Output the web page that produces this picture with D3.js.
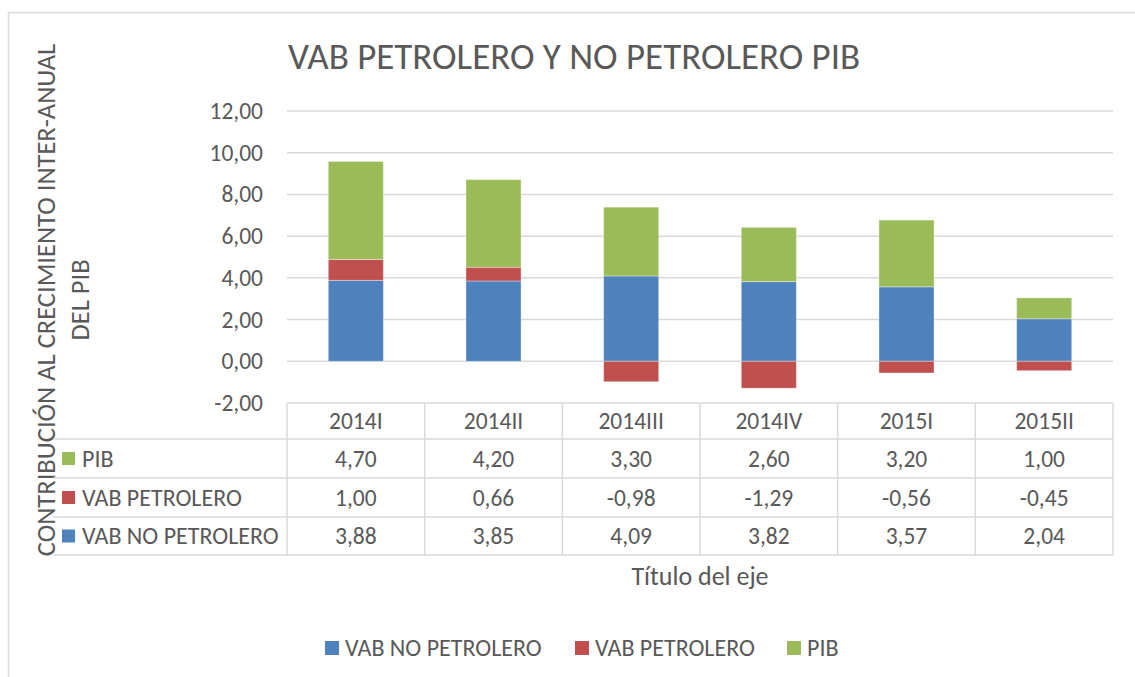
<!DOCTYPE html>
<meta charset="utf-8">
<script src="https://d3js.org/d3.v7.min.js"></script>
<style>
  body { margin: 0; background: #fff; }
  text { font-family: Carlito, Lato, sans-serif; fill: #595959; }
</style>
<div id="chart"></div>
<script>
  // data
  const quarters = ["2014I", "2014II", "2014III", "2014IV", "2015I", "2015II"];
  const seriesNames = ["VAB NO PETROLERO", "VAB PETROLERO", "PIB"];
  const vabNoPetrolero = [3.88, 3.85, 4.09, 3.82, 3.57, 2.04];
  const vabPetrolero = [1.00, 0.66, -0.98, -1.29, -0.56, -0.45];
  const pib = [4.70, 4.20, 3.30, 2.60, 3.20, 1.00];
  const yTicks = [-2, 0, 2, 4, 6, 8, 10, 12];
  const colors = ["#4f81bd", "#c0504d", "#9bbb59"];

  const seriesValues = [vabNoPetrolero, vabPetrolero, pib];
  const rows = quarters.map((q, i) => {
    const r = {quarter: q};
    seriesNames.forEach((s, j) => r[s] = seriesValues[j][i]);
    return r;
  });

  const W = 1135, H = 677;
  const plot = {left: 287, right: 1113, top: 111, bottom: 403};
  const rowH = [403, 439, 478, 517, 555];

  const locale = d3.formatLocale({decimal: ",", thousands: ".", grouping: [3], currency: ["", ""], minus: "-"});
  const fmt = locale.format(".2f");

  const svg = d3.select("#chart").append("svg")
    .attr("width", W).attr("height", H);

  // chart area border
  svg.append("rect")
    .attr("x", 8.5).attr("y", 12.5)
    .attr("width", W + 20).attr("height", H + 20)
    .attr("fill", "none").attr("stroke", "#d9d9d9").attr("stroke-width", 1.5);

  const x = d3.scaleBand()
    .domain(quarters)
    .range([plot.left, plot.right])
    .paddingInner(0.6).paddingOuter(0.3);

  const y = d3.scaleLinear()
    .domain([-2, 12])
    .range([plot.bottom, plot.top]);

  // gridlines
  svg.append("g")
    .selectAll("line")
    .data(yTicks.filter(d => d > -2))
    .join("line")
      .attr("x1", plot.left).attr("x2", plot.right)
      .attr("y1", d => y(d)).attr("y2", d => y(d))
      .attr("stroke", "#d9d9d9").attr("stroke-width", 1.5);

  // y axis labels
  const yAxis = svg.append("g")
    .attr("transform", "translate(" + (plot.left - 14) + ",0)")
    .call(d3.axisLeft(y).tickValues(yTicks).tickFormat(fmt).tickSize(0).tickPadding(10));
  yAxis.select(".domain").remove();
  yAxis.selectAll("text")
    .style("font-size", "23.5px").style("font-family", "Carlito, Lato, sans-serif").attr("fill", "#595959");

  // stacked bars
  const stack = d3.stack()
    .keys(seriesNames)
    .offset(d3.stackOffsetDiverging);
  const stacked = stack(rows);

  svg.append("g")
    .selectAll("g")
    .data(stacked)
    .join("g")
      .attr("fill", (d, i) => colors[i])
    .selectAll("rect")
    .data(d => d)
    .join("rect")
      .attr("x", d => x(d.data.quarter))
      .attr("width", x.bandwidth())
      .attr("y", d => y(d[1]))
      .attr("height", d => y(d[0]) - y(d[1]))
      .attr("stroke", "#ffffff").attr("stroke-opacity", 0.35).attr("stroke-width", 1);

  // title
  svg.append("text")
    .attr("x", 288).attr("y", 69)
    .style("font-size", "37px")
    .text("VAB PETROLERO Y NO PETROLERO PIB");

  // y axis title
  const yTitle = svg.append("text")
    .attr("transform", "translate(46,300) rotate(-90)")
    .attr("text-anchor", "middle")
    .style("font-size", "26.5px");
  yTitle.append("tspan").attr("x", 0).attr("dy", "0.35em")
    .text("CONTRIBUCIÓN AL CRECIMIENTO INTER-ANUAL");
  yTitle.append("tspan").attr("x", 0).attr("dy", 34)
    .text("DEL PIB");

  // data table
  const table = svg.append("g")
    .attr("stroke", "#d9d9d9").attr("stroke-width", 1.5);
  table.append("line")
    .attr("x1", plot.left).attr("x2", plot.right)
    .attr("y1", rowH[0]).attr("y2", rowH[0]);
  rowH.slice(1).forEach(h => {
    table.append("line")
      .attr("x1", 53).attr("x2", plot.right)
      .attr("y1", h).attr("y2", h);
  });
  const colEdges = quarters.map(q => x(q) - x.step() * 0.3).concat([plot.right]);
  table.selectAll("line.v")
    .data(colEdges)
    .join("line")
      .attr("class", "v")
      .attr("x1", d => d).attr("x2", d => d)
      .attr("y1", rowH[0]).attr("y2", rowH[4]);

  // header labels
  svg.append("g")
    .selectAll("text")
    .data(quarters)
    .join("text")
      .attr("x", d => x(d) + x.bandwidth() / 2)
      .attr("y", (rowH[0] + rowH[1]) / 2)
      .attr("dy", "0.35em")
      .attr("text-anchor", "middle")
      .style("font-size", "23.5px")
      .text(d => d);

  // table rows: PIB, VAB PETROLERO, VAB NO PETROLERO (reversed order)
  const tableOrder = [2, 1, 0];
  tableOrder.forEach((si, r) => {
    const cy = (rowH[r + 1] + rowH[r + 2]) / 2;
    svg.append("rect")
      .attr("x", 62).attr("y", cy - 6.5)
      .attr("width", 13).attr("height", 13)
      .attr("fill", colors[si]);
    svg.append("text")
      .attr("x", 82).attr("y", cy).attr("dy", "0.35em")
      .style("font-size", "24px")
      .text(seriesNames[si]);
    svg.append("g")
      .selectAll("text")
      .data(seriesValues[si])
      .join("text")
        .attr("x", (d, i) => x(quarters[i]) + x.bandwidth() / 2)
        .attr("y", cy).attr("dy", "0.35em")
        .attr("text-anchor", "middle")
        .style("font-size", "23.5px")
        .text(d => fmt(d));
  });

  // x axis title
  svg.append("text")
    .attr("x", 700).attr("y", 585)
    .attr("text-anchor", "middle")
    .style("font-size", "26px")
    .text("Título del eje");

  // legend
  const legendX = [325, 575, 787];
  const legend = svg.append("g")
    .selectAll("g")
    .data(seriesNames)
    .join("g")
      .attr("transform", (d, i) => "translate(" + legendX[i] + ",648)");
  legend.append("rect")
    .attr("x", 0).attr("y", -7)
    .attr("width", 14).attr("height", 14)
    .attr("fill", (d, i) => colors[i]);
  legend.append("text")
    .attr("x", 20).attr("dy", "0.35em")
    .style("font-size", "24px")
    .text(d => d);
</script>
